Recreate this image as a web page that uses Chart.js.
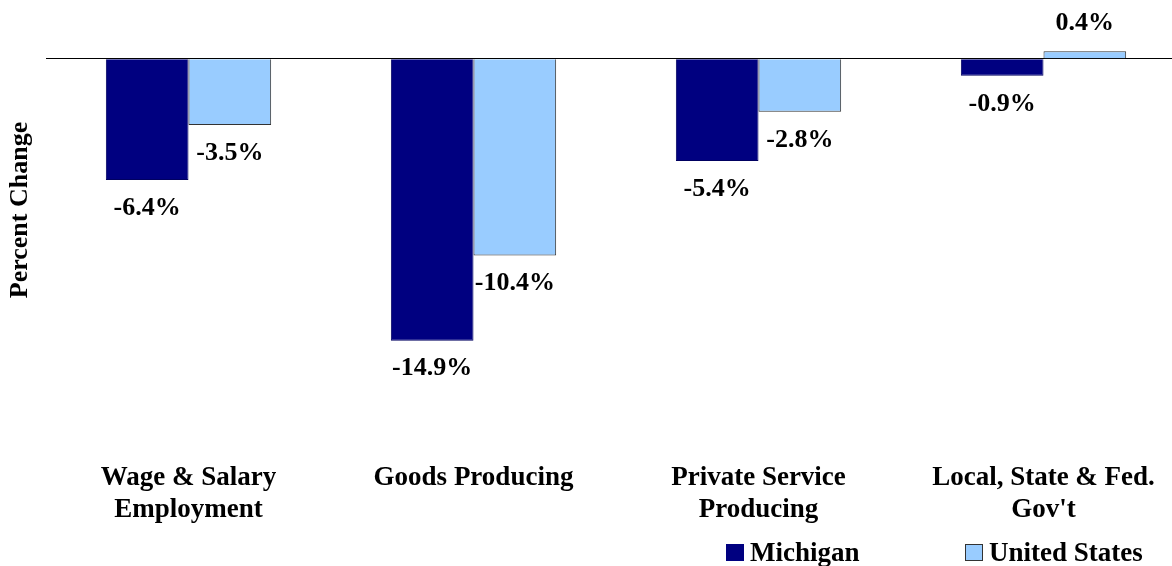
<!DOCTYPE html>
<html>
<head>
<meta charset="utf-8">
<script src="https://cdn.jsdelivr.net/npm/chart.js@4.4.1/dist/chart.umd.min.js"></script>
<style>
html,body{margin:0;padding:0;background:#fff;overflow:hidden;}
#wrap{position:relative;width:1172px;height:566px;overflow:hidden;}
</style>
</head>
<body>
<div id="wrap"><canvas id="c" width="1186" height="566"></canvas></div>
<script>
const categories = [["Wage & Salary","Employment"],"Goods Producing",["Private Service","Producing"],["Local, State & Fed.","Gov't"]];
const michigan = [-6.4, -14.9, -5.4, -0.9];
const unitedStates = [-3.5, -10.4, -2.8, 0.4];
const seriesNames = ["Michigan", "United States"];
const colors = ["#000080", "#99CCFF"];
const FONT = "'Liberation Serif', 'Times New Roman', serif";

const labelPlugin = {
  id: 'valueLabels',
  afterDatasetsDraw(chart) {
    const ctx = chart.ctx;
    ctx.save();
    ctx.font = "bold 26px " + FONT;
    ctx.fillStyle = "#000";
    ctx.textAlign = "center";
    ctx.textBaseline = "middle";
    chart.data.datasets.forEach((ds, di) => {
      chart.getDatasetMeta(di).data.forEach((bar, i) => {
        const v = ds.data[i];
        const off = 28;
        const y = v < 0 ? bar.y + off : bar.y - off;
        ctx.fillText(v.toFixed(1) + "%", bar.x, y);
      });
    });
    ctx.restore();
  }
};

const extrasPlugin = {
  id: 'extras',
  afterDraw(chart) {
    const ctx = chart.ctx;
    ctx.save();
    ctx.font = "bold 26px " + FONT;
    ctx.fillStyle = "#000";
    ctx.textAlign = "center";
    ctx.textBaseline = "middle";
    ctx.translate(20, 210);
    ctx.rotate(-Math.PI / 2);
    ctx.fillText("Percent Change", 0, 0);
    ctx.restore();
    ctx.save();
    ctx.font = "bold 27px " + FONT;
    ctx.textBaseline = "middle";
    ctx.textAlign = "left";
    const items = [{x: 726}, {x: 965}];
    items.forEach((it, i) => {
      ctx.fillStyle = colors[i];
      ctx.fillRect(it.x, 544, 18, 17);
      ctx.strokeStyle = i === 0 ? "#000080" : "#333";
      ctx.lineWidth = 1;
      ctx.strokeRect(it.x + 0.5, 544.5, 17, 16);
      ctx.fillStyle = "#000";
      ctx.fillText(seriesNames[i], it.x + 24, 554);
    });
    ctx.restore();
  }
};

new Chart(document.getElementById('c'), {
  type: 'bar',
  data: {
    labels: categories,
    datasets: [
      {label: seriesNames[0], data: michigan, backgroundColor: colors[0], borderColor: "#000060", borderWidth: 1, categoryPercentage: 0.58, barPercentage: 1},
      {label: seriesNames[1], data: unitedStates, backgroundColor: colors[1], borderColor: "#333", borderWidth: 1, categoryPercentage: 0.58, barPercentage: 1}
    ]
  },
  options: {
    responsive: false,
    animation: false,
    layout: {padding: {left: 46, right: 0, top: 21, bottom: 23}},
    plugins: {legend: {display: false}, tooltip: {enabled: false}},
    scales: {
      x: {
        grid: {display: false},
        border: {display: false},
        ticks: {color: "#000", font: {family: FONT, size: 27, weight: 'bold', lineHeight: 1.22}, padding: 16, maxRotation: 0, autoSkip: false}
      },
      y: {
        min: -20, max: 2,
        ticks: {display: false, stepSize: 2},
        border: {display: false},
        grid: {
          drawTicks: false,
          color: (c) => c.tick && c.tick.value === 0 ? "#000" : "rgba(0,0,0,0)",
          lineWidth: 1
        }
      }
    }
  },
  plugins: [labelPlugin, extrasPlugin]
});
</script>
</body>
</html>
